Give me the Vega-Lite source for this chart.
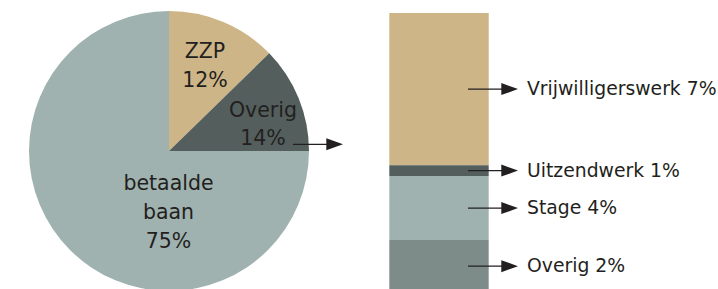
{
  "$schema": "https://vega.github.io/schema/vega-lite/v6.json",
  "width": 718,
  "height": 289,
  "autosize": {"type": "none"},
  "padding": 0,
  "background": "white",
  "config": {"view": {"stroke": null}, "text": {"font": "DejaVu Sans"}},
  "datasets": {
    "pie": [
      {"rank": 1, "name": "ZZP", "value": 12.7, "label": "ZZP\n12%"},
      {"rank": 2, "name": "Overig", "value": 12.3, "label": "Overig\n14%"},
      {"rank": 3, "name": "betaalde baan", "value": 75, "label": "betaalde\nbaan\n75%"}
    ],
    "bar": [
      {"name": "Vrijwilligerswerk", "pct": 7, "share": 7.0, "label": "Vrijwilligerswerk 7%"},
      {"name": "Uitzendwerk", "pct": 1, "share": 0.5, "label": "Uitzendwerk 1%"},
      {"name": "Stage", "pct": 4, "share": 2.95, "label": "Stage 4%"},
      {"name": "Overig", "pct": 2, "share": 2.4, "label": "Overig 2%"}
    ]
  },
  "resolve": {"scale": {"color": "independent"}},
  "layer": [
    {
      "data": {"name": "pie"},
      "mark": {"type": "arc", "radius": 140},
      "encoding": {
        "x": {"datum": 169, "type": "quantitative", "scale": {"domain": [0, 718], "nice": false, "zero": false}, "axis": null},
        "y": {"datum": 6.349, "type": "quantitative", "scale": {"domain": [-0.6, 12.7], "reverse": true, "nice": false, "zero": false}, "axis": null},
        "theta": {"field": "value", "type": "quantitative", "stack": true},
        "order": {"field": "rank", "sort": "ascending"},
        "color": {"field": "name", "type": "nominal", "scale": {"domain": ["ZZP", "Overig", "betaalde baan"], "range": ["#CDB587", "#545F5D", "#9FB2AF"]}, "legend": null}
      }
    },
    {
      "data": {"name": "pie"},
      "transform": [{"filter": "datum.name === 'ZZP'"}],
      "mark": {"type": "text", "align": "center", "baseline": "alphabetic", "lineBreak": "\n", "lineHeight": 29, "fontSize": 20.5, "color": "#231f20"},
      "encoding": {
        "x": {"datum": 205, "type": "quantitative"},
        "y": {"datum": 2.069, "type": "quantitative"},
        "text": {"field": "label"}
      }
    },
    {
      "data": {"name": "pie"},
      "transform": [{"filter": "datum.name === 'Overig'"}],
      "mark": {"type": "text", "align": "center", "baseline": "alphabetic", "lineBreak": "\n", "lineHeight": 28, "fontSize": 20.5, "color": "#231f20"},
      "encoding": {
        "x": {"datum": 263, "type": "quantitative"},
        "y": {"datum": 4.784, "type": "quantitative"},
        "text": {"field": "label"}
      }
    },
    {
      "data": {"name": "pie"},
      "transform": [{"filter": "datum.name === 'betaalde baan'"}],
      "mark": {"type": "text", "align": "center", "baseline": "alphabetic", "lineBreak": "\n", "lineHeight": 29, "fontSize": 20.5, "color": "#231f20"},
      "encoding": {
        "x": {"datum": 168.5, "type": "quantitative"},
        "y": {"datum": 8.144, "type": "quantitative"},
        "text": {"field": "label"}
      }
    },
    {
      "data": {"name": "pie"},
      "transform": [{"filter": "datum.name === 'Overig'"}],
      "mark": {"type": "point", "shape": "M-1,-0.026L0.332,-0.026L0.332,-0.24L1,0L0.332,0.24L0.332,0.026L-1,0.026Z", "size": 2500, "filled": true, "fill": "#231f20", "opacity": 1, "strokeWidth": 0},
      "encoding": {
        "x": {"datum": 318, "type": "quantitative"},
        "y": {"datum": 6.041, "type": "quantitative"}
      }
    },
    {
      "data": {"name": "bar"},
      "transform": [{"stack": "share", "groupby": [], "sort": [{"field": "name", "order": "descending"}], "as": ["y0", "y1"]}],
      "mark": {"type": "rect"},
      "encoding": {
        "x": {"datum": 389.3, "type": "quantitative"},
        "x2": {"datum": 488.7},
        "y": {"field": "y0", "type": "quantitative"},
        "y2": {"field": "y1"},
        "color": {"field": "name", "type": "nominal", "scale": {"domain": ["Vrijwilligerswerk", "Uitzendwerk", "Stage", "Overig"], "range": ["#CDB587", "#545F5D", "#9FB2AF", "#7E8C89"]}, "legend": null}
      }
    },
    {
      "data": {"name": "bar"},
      "mark": {"type": "point", "shape": "M-1,-0.026L0.332,-0.026L0.332,-0.24L1,0L0.332,0.24L0.332,0.026L-1,0.026Z", "size": 2500, "filled": true, "fill": "#231f20", "opacity": 1, "strokeWidth": 0},
      "encoding": {
        "x": {"datum": 493, "type": "quantitative"},
        "y": {"field": "share", "type": "quantitative", "stack": "zero", "bandPosition": 0.5},
        "detail": {"field": "name"},
        "order": {"field": "name", "sort": "descending"}
      }
    },
    {
      "data": {"name": "bar"},
      "mark": {"type": "text", "align": "left", "baseline": "middle", "fontSize": 18.8, "color": "#231f20"},
      "encoding": {
        "x": {"datum": 527, "type": "quantitative"},
        "y": {"field": "share", "type": "quantitative", "stack": "zero", "bandPosition": 0.5},
        "detail": {"field": "name"},
        "order": {"field": "name", "sort": "descending"},
        "text": {"field": "label"}
      }
    }
  ]
}
